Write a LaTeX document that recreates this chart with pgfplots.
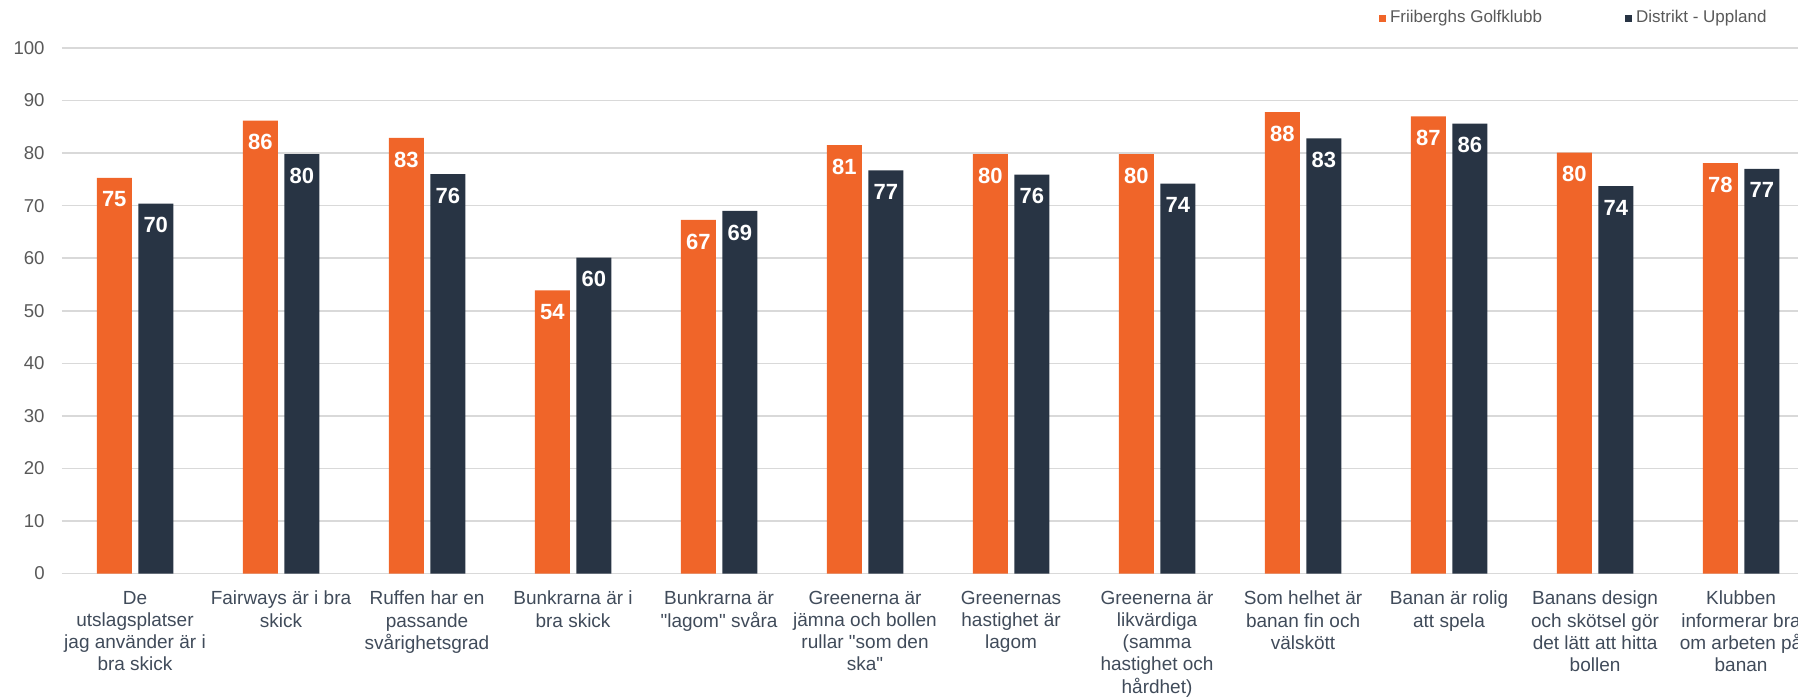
\documentclass[border=0pt]{standalone}
\usepackage{fontspec}
\setmainfont{Liberation Sans}[Ligatures=TeXOff]
\usepackage{pgfplots}
\pgfplotsset{compat=1.18}

\definecolor{fgk}{RGB}{240,101,41}
\definecolor{dist}{RGB}{40,52,68}
\definecolor{gridc}{RGB}{217,217,217}
\definecolor{ticktxt}{RGB}{89,89,89}
\definecolor{cattxt}{RGB}{64,75,90}

\begin{document}
\begin{tikzpicture}
\begin{axis}[
  at={(0,0)}, anchor=south west,
  scale only axis,
  width=868pt, height=262.75pt,
  ybar=3.25pt, bar width=17.5pt,
  xmin=-0.5, xmax=11.39,
  ymin=0, ymax=100,
  ytick={0,10,...,100},
  xtick={0,...,11},
  xticklabels={
    {De\\utslagsplatser\\jag använder är i\\bra skick},
    {Fairways är i bra\\skick},
    {Ruffen har en\\passande\\svårighetsgrad},
    {Bunkrarna är i\\bra skick},
    {Bunkrarna är\\"lagom" svåra},
    {Greenerna är\\jämna och bollen\\rullar "som den\\ska"},
    {Greenernas\\hastighet är\\lagom},
    {Greenerna är\\likvärdiga\\(samma\\hastighet och\\hårdhet)},
    {Som helhet är\\banan fin och\\välskött},
    {Banan är rolig\\att spela},
    {Banans design\\och skötsel gör\\det lätt att hitta\\bollen},
    {Klubben\\informerar bra\\om arbeten på\\banan}},
  ymajorgrids, grid style={gridc, line width=0.75pt},
  axis line style={draw=none},
  major tick style={draw=none},
  /pgf/number format/assume math mode=true,
  yticklabel style={font=\fontsize{9.3}{11}\selectfont, text=ticktxt, anchor=east, inner sep=0pt, xshift=-8.5pt},
  xticklabel style={font=\fontsize{9.5}{11.1}\selectfont, text=cattxt, align=center, anchor=north, inner sep=0pt, yshift=-4.3pt},
  point meta=explicit symbolic,
  nodes near coords,
  every node near coord/.append style={anchor=north, inner sep=0pt, yshift=-6.7pt, text=white, font=\fontsize{11}{13}\selectfont\bfseries},
  legend columns=2,
  legend style={draw=none, fill=none, at={(0.7584,1.0571)}, anchor=west, font=\fontsize{8.5}{10}\selectfont, text=ticktxt, inner sep=0pt, /tikz/every even column/.append style={column sep=39.5pt}},
  legend image code/.code={\fill[#1] (0pt,-1.75pt) rectangle (3.5pt,1.75pt);},
]
\addplot[fill=fgk, draw=none] coordinates {
  (0,75.3) [75] (1,86.2) [86] (2,82.9) [83] (3,53.9) [54]
  (4,67.3) [67] (5,81.5) [81] (6,79.8) [80] (7,79.8) [80]
  (8,87.8) [88] (9,87.0) [87] (10,80.1) [80] (11,78.1) [78]
};
\addplot[fill=dist, draw=none] coordinates {
  (0,70.4) [70] (1,79.8) [80] (2,76.0) [76] (3,60.1) [60]
  (4,69.0) [69] (5,76.7) [77] (6,75.9) [76] (7,74.2) [74]
  (8,82.8) [83] (9,85.6) [86] (10,73.7) [74] (11,77.0) [77]
};
\legend{Friiberghs Golfklubb, Distrikt - Uppland}
\end{axis}
\pgfresetboundingbox
\path[use as bounding box] (-31pt,-62.25pt) rectangle (868pt,286.75pt);
\end{tikzpicture}
\end{document}
